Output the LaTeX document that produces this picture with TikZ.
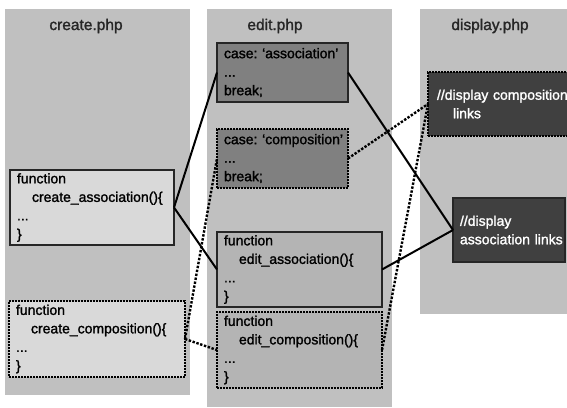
\documentclass[tikz,border=0pt]{standalone}
\usepackage{fontspec}
\setmainfont{Liberation Sans}
\newfontfamily\codefont{Liberation Sans}[FakeBold=1.5]
\usepackage{xcolor}

\hyphenpenalty=10000
\exhyphenpenalty=10000
\frenchspacing

\definecolor{panelgray}{HTML}{C0C0C0}
\definecolor{lightbox}{HTML}{D9D9D9}
\definecolor{casebox}{HTML}{808080}
\definecolor{funcbox}{HTML}{B4B4B4}
\definecolor{darkbox}{HTML}{404040}
\definecolor{boxline}{HTML}{262626}

\tikzset{
    panel/.style={fill=panelgray},
    header/.style={font=\codefont\fontsize{15.5}{18}\selectfont, text=black!85},
    codebox/.style={anchor=north west, rectangle, align=left, inner xsep=7pt, inner ysep=1pt,
        outer sep=0pt, line width=1.8pt, font=\codefont\fontsize{14}{18.5}\selectfont},
    solidbox/.style={codebox, draw=boxline},
    dotbox/.style={codebox, draw=black, dash pattern=on 1.8pt off 1.2pt},
    link/.style={line width=2pt},
    dotlink/.style={line width=2.4pt, dash pattern=on 2.4pt off 1.6pt}
}

\begin{document}
\begin{tikzpicture}[x=1pt, y=-1pt]
    \useasboundingbox (0,0) rectangle (567,407);

    \fill[panel] (5,9) rectangle (190,395);
    \fill[panel] (207,9) rectangle (392,407);
    \fill[panel] (420,9) rectangle (567,314);

    \node (H1) at (86,26) [header] {create.php};
    \node (H2) at (275,26) [header] {edit.php};
    \node (H3) at (490,26) [header] {display.php};

    \node (CA) at (10,170) [solidbox, fill=lightbox, text width=150pt, minimum height=75pt]
        {function\\\hspace*{15pt}create\_association()\{\\...\\\}};
    \node (CC) at (9,301) [dotbox, fill=lightbox, text width=162pt, minimum height=76pt]
        {function\\\hspace*{15pt}create\_composition()\{\\...\\\}};

    \node (EA) at (217,43) [solidbox, fill=casebox, text width=117pt, minimum height=59pt]
        {\mbox{case: ‘association’}\\...\\break;};
    \node (EC) at (217,129) [dotbox, fill=casebox, text width=117pt, minimum height=59pt]
        {\mbox{case: ‘composition’}\\...\\break;};
    \node (FA) at (217,232) [solidbox, fill=funcbox, text width=151pt, minimum height=75pt]
        {function\\\hspace*{15pt}edit\_association()\{\\...\\\}};
    \node (FC) at (217,312) [dotbox, fill=funcbox, text width=151pt, minimum height=76pt]
        {function\\\hspace*{15pt}edit\_composition()\{\\...\\\}};

    \node (DC) at (428,72) [dotbox, fill=darkbox, text=white, inner xsep=9pt, text width=127pt, minimum height=64pt]
        {\mbox{//display composition}\\\hspace*{16pt}links};
    \node (DA) at (453,198) [solidbox, fill=darkbox, text=white, text width=98pt, minimum height=64pt]
        {//display\\\mbox{association links}};

    \draw[dotlink] (CC.east) -- (EC.west);
    \draw[dotlink] (CC.east) -- (FC.west);
    \draw[dotlink] (EC.east) -- (DC.west);
    \draw[dotlink] (FC.east) -- (DC.west);

    \draw[link] (CA.east) -- (EA.west);
    \draw[link] (CA.east) -- (FA.west);
    \draw[link] (EA.east) -- (DA.west);
    \draw[link] (FA.east) -- (DA.west);
\end{tikzpicture}
\end{document}
